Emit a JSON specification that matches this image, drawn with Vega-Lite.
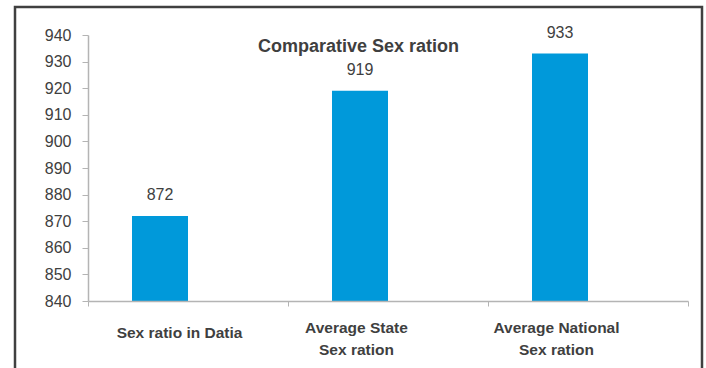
{
  "$schema": "https://vega.github.io/schema/vega-lite/v6.json",
  "autosize": "none",
  "padding": {"left": 15, "top": 7, "right": 4, "bottom": 0},
  "width": 687,
  "height": 375,
  "background": "white",
  "title": {
    "text": "Comparative Sex ration",
    "anchor": "middle",
    "frame": "group",
    "orient": "top",
    "baseline": "middle",
    "offset": 0,
    "dy": 58,
    "font": "Liberation Sans",
    "fontSize": 18,
    "fontWeight": "bold",
    "color": "#3f3f3f"
  },
  "data": {
    "values": [
      {"category": "Sex ratio in Datia", "ratio": 872},
      {"category": "Average State\nSex ration", "ratio": 919},
      {"category": "Average National\nSex ration", "ratio": 933}
    ]
  },
  "encoding": {
    "x": {
      "field": "category",
      "type": "nominal",
      "sort": null,
      "scale": {"range": [73, 673], "paddingInner": 0, "paddingOuter": 0},
      "axis": {
        "title": null,
        "orient": "bottom",
        "offset": -81,
        "labelAngle": 0,
        "labelExpr": "split(datum.label, '\\n')",
        "labelLineHeight": 22,
        "labelBaseline": "middle",
        "labelOffset": {
          "condition": {"test": "datum.value === 'Sex ratio in Datia'", "value": -9},
          "value": -32
        },
        "labelPadding": {
          "condition": {"test": "datum.value === 'Sex ratio in Datia'", "value": 26},
          "value": 21
        },
        "labelFont": "Liberation Sans",
        "labelFontSize": 15.5,
        "labelFontWeight": "bold",
        "labelColor": "#3f3f3f",
        "tickBand": "extent",
        "tickSize": 5,
        "tickColor": "#b4b4b4",
        "domainColor": "#b4b4b4",
        "domainWidth": 1.5,
        "labelLimit": 300,
        "zindex": 1
      }
    },
    "y": {
      "field": "ratio",
      "type": "quantitative",
      "scale": {"domain": [840, 940], "range": [294, 28], "zero": false, "nice": false},
      "axis": {
        "title": null,
        "offset": -73,
        "grid": false,
        "values": [840, 850, 860, 870, 880, 890, 900, 910, 920, 930, 940],
        "labelOverlap": false,
        "labelFlush": false,
        "tickSize": 6,
        "labelPadding": 11,
        "labelFont": "Liberation Sans",
        "labelFontSize": 16,
        "labelColor": "#404040",
        "tickColor": "#b4b4b4",
        "domainColor": "#b4b4b4",
        "domainWidth": 1.5
      }
    }
  },
  "layer": [
    {
      "mark": {"type": "bar", "color": "#0099da", "width": {"band": 0.28}, "xOffset": -28},
      "encoding": {"y2": {"datum": 840}}
    },
    {
      "mark": {
        "type": "text",
        "xOffset": -28,
        "dy": -20.5,
        "baseline": "middle",
        "font": "Liberation Sans",
        "fontSize": 16,
        "color": "#404040"
      },
      "encoding": {"text": {"field": "ratio", "type": "quantitative"}}
    }
  ],
  "config": {
    "view": {"stroke": "#404040", "strokeWidth": 2.5, "fill": "white"}
  }
}
